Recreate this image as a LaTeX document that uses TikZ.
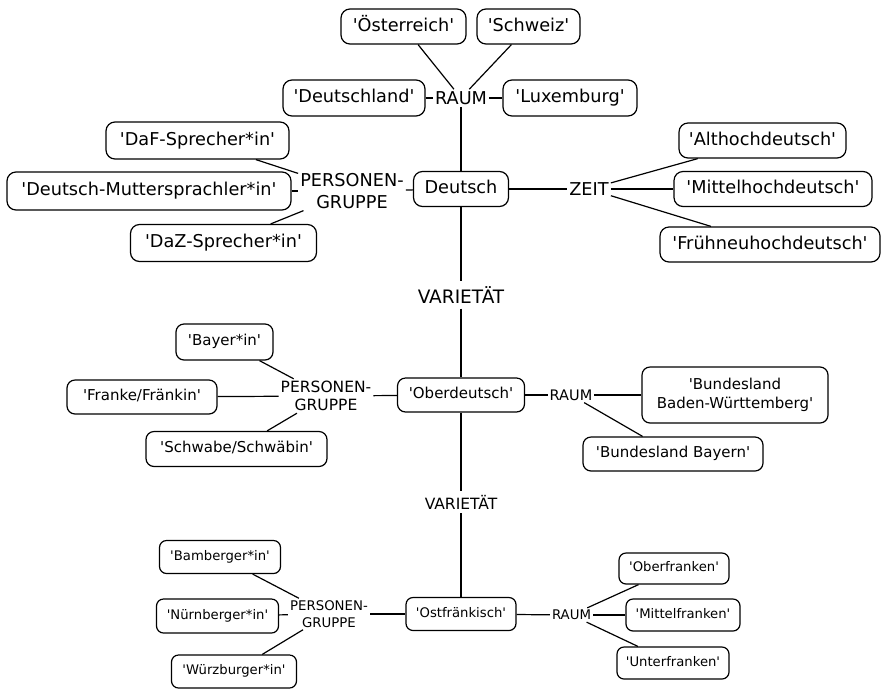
\documentclass[tikz,border=0pt]{standalone}
\usepackage{fontspec}
\setmainfont{DejaVu Sans}
\newcommand{\aq}[1]{\textquotesingle#1\textquotesingle}
\tikzset{
  bx/.style={draw, line width=1.2pt, inner sep=0pt, align=center},
  bxA/.style={bx, rounded corners=9pt, font=\fontsize{17.7}{21.5}\selectfont, text height=13.5pt, text depth=4.2pt},
  bxB/.style={bx, rounded corners=8pt, font=\fontsize{15}{18.3}\selectfont, text height=11.4pt, text depth=3.6pt},
  bxBm/.style={bx, rounded corners=8pt, font=\fontsize{15}{19}\selectfont},
  bxC/.style={bx, rounded corners=7pt, font=\fontsize{13.2}{16}\selectfont, text height=10pt, text depth=3.2pt},
  lbA/.style={inner sep=2pt, align=center, font=\fontsize{17.7}{21.5}\selectfont},
  lbB/.style={inner sep=2pt, align=center, font=\fontsize{15.5}{18.3}\selectfont},
  lbC/.style={inner sep=2pt, align=center, font=\fontsize{13.3}{17}\selectfont},
  conn/.style={line width=1.2pt}
}
\begin{document}
\begin{tikzpicture}[x=1pt,y=-1pt]
\useasboundingbox (0,0) rectangle (882,689);
% ---------- top level ----------
\node[bxA, minimum width=125pt, minimum height=35pt] (oest) at (403.5,26.5) {\aq{Österreich}};
\node[bxA, minimum width=103pt, minimum height=35pt] (schw) at (528.5,26.5) {\aq{Schweiz}};
\node[bxA, minimum width=142pt, minimum height=36pt] (dland) at (354,98) {\aq{Deutschland}};
\node[bxA, minimum width=134pt, minimum height=36pt] (lux) at (570,98) {\aq{Luxemburg}};
\node[lbA] (r1) at (461,98) {RAUM};
\node[bxA, minimum width=95pt, minimum height=35pt] (deutsch) at (461,189) {Deutsch};
\node[lbA] (pg1) at (352,191) {PERSONEN-\\GRUPPE};
\node[bxA, minimum width=183pt, minimum height=37pt] (daf) at (197.5,140.5) {\aq{DaF-Sprecher*in}};
\node[bxA, minimum width=284pt, minimum height=38pt] (dm) at (149,191) {\aq{Deutsch-Muttersprachler*in}};
\node[bxA, minimum width=186pt, minimum height=37pt] (daz) at (223.5,243) {\aq{DaZ-Sprecher*in}};
\node[lbA] (zeit) at (589,189) {ZEIT};
\node[bxA, minimum width=167pt, minimum height=35pt] (alt) at (762.5,140.5) {\aq{Althochdeutsch}};
\node[bxA, minimum width=198pt, minimum height=35pt] (mittel) at (773,189) {\aq{Mittelhochdeutsch}};
\node[bxA, minimum width=220pt, minimum height=35pt] (fruh) at (770,244.5) {\aq{Frühneuhochdeutsch}};
\node[lbA, font=\fontsize{18.5}{21.5}\selectfont, inner sep=5pt] (v1) at (461,295) {VARIETÄT};
% ---------- middle level ----------
\node[bxB, minimum width=127pt, minimum height=34pt] (ober) at (461,395) {\aq{Oberdeutsch}};
\node[lbB] (pg2) at (326,396) {PERSONEN-\\GRUPPE};
\node[bxB, minimum width=97pt, minimum height=36pt] (bayer) at (224.5,342) {\aq{Bayer*in}};
\node[bxB, minimum width=150pt, minimum height=34pt] (franke) at (142,397) {\aq{Franke/Fränkin}};
\node[bxB, minimum width=181pt, minimum height=35pt] (schwabe) at (236.5,449) {\aq{Schwabe/Schwäbin}};
\node[lbB, font=\fontsize{14.5}{18}\selectfont] (r2) at (571,395) {RAUM};
\node[bxBm, minimum width=186pt, minimum height=56pt] (bw) at (735,395) {\aq{Bundesland\\Baden-Württemberg}};
\node[bxB, minimum width=180pt, minimum height=34pt] (bb) at (673,454) {\aq{Bundesland Bayern}};
\node[lbB, inner sep=4pt] (v2) at (461,502) {VARIETÄT};
% ---------- bottom level ----------
\node[bxC, minimum width=110pt, minimum height=33pt] (ostf) at (461,614) {\aq{Ostfränkisch}};
\node[lbC] (pg3) at (329,614) {PERSONEN-\\GRUPPE};
\node[bxC, minimum width=121pt, minimum height=33pt] (bamb) at (220,557) {\aq{Bamberger*in}};
\node[bxC, minimum width=122pt, minimum height=34pt] (nurn) at (217.5,616) {\aq{Nürnberger*in}};
\node[bxC, minimum width=125pt, minimum height=33pt] (wurz) at (234,671.5) {\aq{Würzburger*in}};
\node[lbC] (r3) at (571.5,615) {RAUM};
\node[bxC, minimum width=110pt, minimum height=31pt] (oberf) at (674,568.5) {\aq{Oberfranken}};
\node[bxC, minimum width=114pt, minimum height=32pt] (mittelf) at (683,615) {\aq{Mittelfranken}};
\node[bxC, minimum width=112pt, minimum height=32pt] (unterf) at (673,663) {\aq{Unterfranken}};
% ---------- connectors ----------
\draw[conn] (oest) -- (r1);
\draw[conn] (schw) -- (r1);
\draw[conn] (dland) -- (r1);
\draw[conn] (r1) -- (lux);
\draw[conn] (r1) -- (deutsch);
\draw[conn] (daf) -- (pg1);
\draw[conn] (dm) -- (pg1);
\draw[conn] (daz) -- (pg1);
\draw[conn] (pg1) -- (deutsch);
\draw[conn] (deutsch) -- (zeit);
\draw[conn] (zeit) -- (alt);
\draw[conn] (zeit) -- (mittel);
\draw[conn] (zeit) -- (fruh);
\draw[conn] (deutsch) -- (v1) -- (ober);
\draw[conn] (bayer) -- (pg2);
\draw[conn] (franke) -- (pg2);
\draw[conn] (schwabe) -- (pg2);
\draw[conn] (pg2) -- (ober);
\draw[conn] (ober) -- (r2);
\draw[conn] (r2) -- (bw);
\draw[conn] (r2) -- (bb);
\draw[conn] (ober) -- (v2) -- (ostf);
\draw[conn] (bamb) -- (pg3);
\draw[conn] (nurn) -- (pg3);
\draw[conn] (wurz) -- (pg3);
\draw[conn] (pg3) -- (ostf);
\draw[conn] (ostf) -- (r3);
\draw[conn] (r3) -- (oberf);
\draw[conn] (r3) -- (mittelf);
\draw[conn] (r3) -- (unterf);
\end{tikzpicture}
\end{document}
